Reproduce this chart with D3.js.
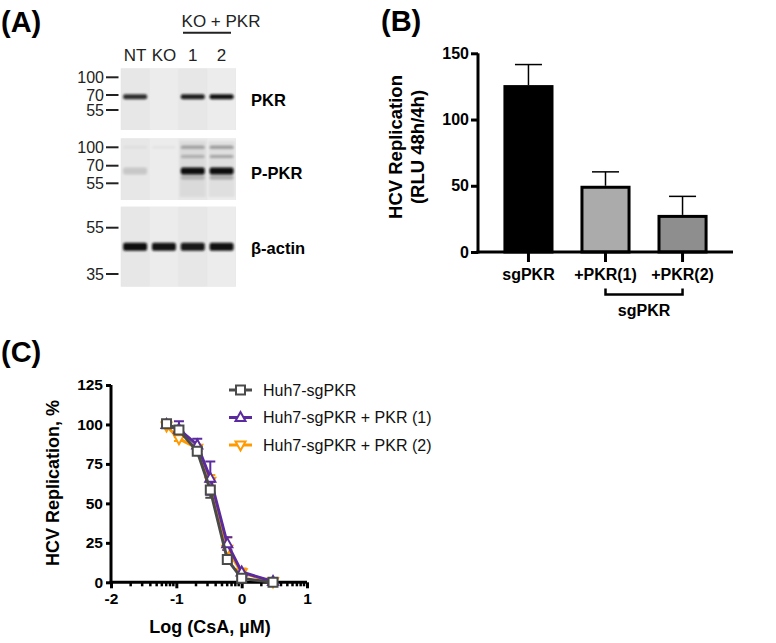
<!DOCTYPE html>
<html><head><meta charset="utf-8">
<script src="https://cdn.jsdelivr.net/npm/d3@7"></script>
<style>body{margin:0;background:#fff} text{font-family:'Liberation Sans',Arial,sans-serif}</style>
</head><body><svg id="c" width="776" height="643"></svg>
<script>
// ---------- Panel A data (western blot) ----------
const lanes = ["NT", "KO", "1", "2"];
const blotNames = ["PKR", "P-PKR", "β-actin"];
const blotMarkers = [[100, 70, 55], [100, 70, 55], [55, 35]];
const bandsPKR = [{kda: 68.3, h: 5, inten: [0.85, 0, 0.92, 0.98]}];
const bandsPPKR = [
  {kda: 100, h: 3, inten: [0.04, 0.03, 0.3, 0.35]},
  {kda: 85, h: 3, inten: [0, 0, 0.22, 0.28]},
  {kda: 65.5, h: 7, inten: [0.14, 0, 1, 1]},
  {kda: 60, h: 4, inten: [0, 0, 0.2, 0.25]}
];
const bandsActin = [{kda: 46.8, h: 8, inten: [1, 0.97, 0.95, 0.98]}];

// ---------- Panel B data ----------
const barCats = ["sgPKR", "+PKR(1)", "+PKR(2)"];
const barVals = [126, 50, 28];
const barErr = [15.5, 10.5, 14];
const barFills = ["#000000", "#ababab", "#8e8e8e"];
const barTicks = [0, 50, 100, 150];

// ---------- Panel C data ----------
const logX = [-1.15, -0.96, -0.68, -0.48, -0.22, 0.0, 0.48];
const seriesNames = ["Huh7-sgPKR", "Huh7-sgPKR + PKR (1)", "Huh7-sgPKR + PKR (2)"];
const grayY = [100.5, 96.5, 83, 58.5, 14.5, 2.5, 0];
const grayErr = [1, 2, 2, 5, 2, 1, 0];
const purpleY = [100, 97, 87, 66, 24.5, 6.5, 0.5];
const purpleErr = [2, 5, 4, 10.5, 4, 1, 0.5];
const orangeY = [99, 91, 85, 64, 21, 6, 0.3];
const orangeErr = [1, 1.5, 2, 4, 7.5, 2.8, 0.3];
const cTicksY = [0, 25, 50, 75, 100, 125];
const cTicksX = [-2, -1, 0, 1];

const svg = d3.select("#c");
const defs = svg.append("defs");
defs.append("filter").attr("id", "blur").attr("x", "-20%").attr("y", "-100%").attr("width", "140%").attr("height", "300%")
  .append("feGaussianBlur").attr("stdDeviation", 0.9);

// ===== Panel labels =====
const plabel = (t, x, y) => svg.append("text").attr("x", x).attr("y", y).text(t)
  .attr("font-size", 29).attr("font-weight", "bold");
plabel("(A)", 1, 32);
plabel("(B)", 381, 31);
plabel("(C)", 1, 362);

// ===== Panel A =====
const laneX = d3.scaleBand().domain(lanes).range([120.7, 236]).paddingInner(0.1).paddingOuter(0.05);
const blotBoxes = [[68.3, 130], [138.3, 200], [206.7, 286.7]];
const blotYScales = [
  d3.scaleLinear().domain([100, 70, 55]).range([77.3, 95, 110]),
  d3.scaleLinear().domain([100, 70, 55]).range([147.3, 165.7, 183.3]),
  d3.scaleLinear().domain([55, 35]).range([227.7, 274])
];
const blotBands = [bandsPKR, bandsPPKR, bandsActin];
const labelYs = [100, 173, 248];
const gA = svg.append("g");
blotNames.forEach((name, i) => {
  const [y0, y1] = blotBoxes[i];
  const ys = blotYScales[i];
  gA.append("rect").attr("x", 120.7).attr("y", y0).attr("width", 115.3).attr("height", y1 - y0).attr("fill", "#e9e9e9");
  lanes.forEach((l, j) => {
    gA.append("rect").attr("x", laneX(l) - 1).attr("y", y0).attr("width", laneX.bandwidth() + 2).attr("height", y1 - y0)
      .attr("fill", j % 2 ? "#ececec" : "#e5e5e5").attr("opacity", 0.7);
  });
  if (i === 1) {
    ["1", "2"].forEach(l => gA.append("rect").attr("x", laneX(l)).attr("y", y0 + 3).attr("width", laneX.bandwidth()).attr("height", y1 - y0 - 6)
      .attr("fill", "#000").attr("opacity", 0.05).attr("filter", "url(#blur)"));
  }
  blotBands[i].forEach(b => {
    lanes.forEach((l, j) => {
      if (b.inten[j] <= 0) return;
      gA.append("rect").attr("x", laneX(l) + 1).attr("y", ys(b.kda) - b.h / 2).attr("width", laneX.bandwidth() - 2).attr("height", b.h)
        .attr("rx", 2).attr("fill", "#0a0a0a").attr("opacity", b.inten[j]).attr("filter", "url(#blur)");
    });
  });
  blotMarkers[i].forEach(m => {
    gA.append("line").attr("x1", 106).attr("x2", 118.5).attr("y1", ys(m)).attr("y2", ys(m)).attr("stroke", "#222").attr("stroke-width", 2);
    gA.append("text").attr("x", 104).attr("y", ys(m)).attr("dy", "0.36em").attr("text-anchor", "end")
      .attr("font-size", 16).attr("fill", "#222").text(m);
  });
  gA.append("text").attr("x", 251).attr("y", labelYs[i]).attr("dy", "0.36em").attr("font-size", 16.5)
    .attr("font-weight", "bold").text(name);
});
lanes.forEach(l => gA.append("text").attr("x", laneX(l) + laneX.bandwidth() / 2).attr("y", 55).attr("dy", "0.36em")
  .attr("text-anchor", "middle").attr("font-size", 17).attr("fill", "#222").text(l));
gA.append("text").attr("x", 221).attr("y", 20.5).attr("dy", "0.36em").attr("text-anchor", "middle")
  .attr("font-size", 17).attr("fill", "#222").text("KO + PKR");
gA.append("line").attr("x1", 183).attr("x2", 231).attr("y1", 32.7).attr("y2", 32.7).attr("stroke", "#222").attr("stroke-width", 2);

// ===== Panel B =====
const gB = svg.append("g");
const bx = d3.scaleBand().domain(barCats).range([478, 733]).paddingInner(0.35).paddingOuter(0.33);
const by = d3.scaleLinear().domain([0, 150]).range([252, 53.3]);
barCats.forEach((c, i) => {
  const xc = bx(c) + bx.bandwidth() / 2;
  gB.append("line").attr("x1", xc).attr("x2", xc).attr("y1", by(barVals[i])).attr("y2", by(barVals[i] + barErr[i]))
    .attr("stroke", "#000").attr("stroke-width", 1.5);
  gB.append("line").attr("x1", xc - 13.5).attr("x2", xc + 13.5).attr("y1", by(barVals[i] + barErr[i])).attr("y2", by(barVals[i] + barErr[i]))
    .attr("stroke", "#000").attr("stroke-width", 1.5);
  gB.append("rect").attr("x", bx(c) + 1.5).attr("y", by(barVals[i]) + 1.5).attr("width", bx.bandwidth() - 3)
    .attr("height", by(0) - by(barVals[i]) - 1.5).attr("fill", barFills[i]).attr("stroke", "#000").attr("stroke-width", 3);
});
const yAxB = gB.append("g").attr("transform", "translate(478,0)")
  .call(d3.axisLeft(by).tickValues(barTicks).tickSize(7).tickPadding(2));
const xAxB = gB.append("g").attr("transform", "translate(0,252)")
  .call(d3.axisBottom(bx).tickSize(10).tickPadding(7));
[yAxB, xAxB].forEach(a => {
  a.select(".domain").attr("stroke-width", 3).attr("stroke", "#000");
  a.selectAll(".tick line").attr("stroke-width", 3).attr("stroke", "#000");
  a.selectAll("text").attr("font-size", 16).attr("font-weight", "bold").attr("fill", "#000")
    .attr("font-family", "'Liberation Sans',Arial,sans-serif");
});
xAxB.select(".domain").attr("d", "M476.5,0H733");
yAxB.select(".domain").attr("d", "M0,53.3V253.5");
const b1 = bx(barCats[1]) + bx.bandwidth() / 2, b2 = bx(barCats[2]) + bx.bandwidth() / 2;
gB.append("path").attr("d", `M${b1},288.5V294.5H${b2}V288.5`).attr("fill", "none").attr("stroke", "#000").attr("stroke-width", 2.5);
gB.append("text").attr("x", (b1 + b2) / 2).attr("y", 310).attr("dy", "0.36em").attr("text-anchor", "middle")
  .attr("font-size", 16).attr("font-weight", "bold").text("sgPKR");
gB.append("text").attr("transform", "translate(402,147) rotate(-90)").attr("text-anchor", "middle")
  .attr("font-size", 18.5).attr("font-weight", "bold").text("HCV Replication");
gB.append("text").attr("transform", "translate(424,147) rotate(-90)").attr("text-anchor", "middle")
  .attr("font-size", 18.5).attr("font-weight", "bold").text("(RLU 48h/4h)");

// ===== Panel C =====
const gC = svg.append("g");
const cx = d3.scaleLinear().domain([-2, 1]).range([111, 307]);
const cy = d3.scaleLinear().domain([0, 125]).range([582.3, 385]);
const yAxC = gC.append("g").attr("transform", "translate(111,0)")
  .call(d3.axisLeft(cy).tickValues(cTicksY).tickSize(5).tickPadding(3));
const xAxC = gC.append("g").attr("transform", "translate(0,582.3)")
  .call(d3.axisBottom(cx).tickValues(cTicksX).tickSize(6).tickPadding(5).tickFormat(d3.format("d")));
const minor = [];
cTicksX.slice(0, -1).forEach(d => { for (let k = 2; k <= 9; k++) minor.push(d + Math.log10(k)); });
xAxC.selectAll(".minor").data(minor).enter().append("line").attr("class", "minor")
  .attr("x1", d => cx(d)).attr("x2", d => cx(d)).attr("y1", 0).attr("y2", 4).attr("stroke", "#000").attr("stroke-width", 2.5);
[yAxC, xAxC].forEach(a => {
  a.select(".domain").attr("stroke-width", 3).attr("stroke", "#000");
  a.selectAll(".tick line").attr("stroke-width", 3).attr("stroke", "#000");
  a.selectAll("text").attr("font-size", 15.5).attr("font-weight", "bold").attr("fill", "#000")
    .attr("font-family", "'Liberation Sans',Arial,sans-serif");
});
yAxC.select(".domain").attr("d", "M0,385V583.8");
xAxC.select(".domain").attr("d", "M109.5,0H307");
xAxC.selectAll(".tick text").text(d => d < 0 ? "-" + Math.abs(d) : d);

const series = [
  {name: seriesNames[2], y: orangeY, e: orangeErr, color: "#ff9a00", sym: "down"},
  {name: seriesNames[1], y: purpleY, e: purpleErr, color: "#5b2a9e", sym: "up"},
  {name: seriesNames[0], y: grayY, e: grayErr, color: "#4a4a4a", sym: "square"}
];
const symPath = (type, x, y) => {
  if (type === "square") return `M${x - 4.5},${y - 4.5}h9v9h-9Z`;
  if (type === "up") return `M${x},${y - 5.5}L${x + 5},${y + 3.5}H${x - 5}Z`;
  return `M${x},${y + 5.5}L${x + 5},${y - 3.5}H${x - 5}Z`;
};
const line = d3.line().x(d => cx(d[0])).y(d => cy(d[1]));
series.forEach(s => {
  const pts = logX.map((x, i) => [x, s.y[i], s.e[i]]);
  pts.forEach(p => {
    if (p[2] < 1.2) return;
    gC.append("path").attr("d", `M${cx(p[0])},${cy(p[1] - p[2])}V${cy(p[1] + p[2])}M${cx(p[0]) - 5},${cy(p[1] + p[2])}h10M${cx(p[0]) - 5},${cy(p[1] - p[2])}h10`)
      .attr("stroke", s.color).attr("stroke-width", 2).attr("fill", "none");
  });
});
series.forEach(s => {
  const pts = logX.map((x, i) => [x, s.y[i]]);
  gC.append("path").datum(pts).attr("d", line).attr("fill", "none").attr("stroke", s.color).attr("stroke-width", 3);
  pts.forEach(p => gC.append("path").attr("d", symPath(s.sym, cx(p[0]), cy(p[1])))
    .attr("fill", "#fff").attr("stroke", s.color).attr("stroke-width", 2));
});
const legSeries = [series[2], series[1], series[0]];
const legY = [390, 417.5, 445];
seriesNames.forEach((n, i) => {
  const s = legSeries[i];
  gC.append("line").attr("x1", 229).attr("x2", 252).attr("y1", legY[i]).attr("y2", legY[i]).attr("stroke", s.color).attr("stroke-width", 3);
  gC.append("path").attr("d", symPath(s.sym, 240.5, legY[i])).attr("fill", "#fff").attr("stroke", s.color).attr("stroke-width", 2);
  gC.append("text").attr("x", 263).attr("y", legY[i]).attr("dy", "0.36em").attr("font-size", 16).attr("fill", "#111").text(n);
});
gC.append("text").attr("transform", "translate(59,483) rotate(-90)").attr("text-anchor", "middle")
  .attr("font-size", 18).attr("font-weight", "bold").text("HCV Replication, %");
gC.append("text").attr("x", 210).attr("y", 627).attr("dy", "0.36em").attr("text-anchor", "middle")
  .attr("font-size", 18).attr("font-weight", "bold").text("Log (CsA, µM)");
</script></body></html>
